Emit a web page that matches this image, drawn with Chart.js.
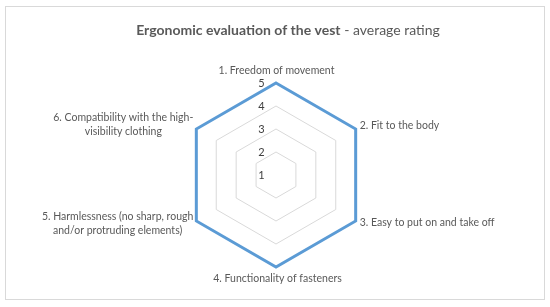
<!DOCTYPE html>
<html><head><meta charset="utf-8">
<script src="https://cdn.jsdelivr.net/npm/chart.js@4"></script>
<style>html,body{margin:0;padding:0;background:#fff}#wrap{width:550px;height:307px}</style>
</head><body><div id="wrap"><canvas id="c"></canvas></div>
<script>
const titleBold = 'Ergonomic evaluation of the vest';
const titleNormal = ' - average rating';
const categories = [
  ['1. Freedom of movement'],
  ['2. Fit to the body'],
  ['3. Easy to put on and take off'],
  ['4. Functionality of fasteners'],
  ['5. Harmlessness (no sharp, rough', 'and/or protruding elements)'],
  ['6. Compatibility with the high-', 'visibility clothing']
];
const averageRating = [5, 5, 5, 5, 5, 5];
const tickMin = 1, tickMax = 5, tickStep = 1;

const FONT = 'Lato, "Open Sans", sans-serif';
const TXT = '#595959';

const decor = {
  id: 'decor',
  beforeDraw(chart) {
    const ctx = chart.ctx;
    ctx.save();
    ctx.strokeStyle = '#d9d9d9';
    ctx.lineWidth = 1;
    ctx.strokeRect(5.5, 6.5, 539, 293);
    ctx.restore();
  },
  afterDraw(chart) {
    const ctx = chart.ctx;
    const s = chart.scales.r;
    ctx.save();
    // title
    ctx.fillStyle = TXT;
    ctx.textBaseline = 'middle';
    ctx.font = 'bold 14px ' + FONT;
    const wb = ctx.measureText(titleBold).width;
    ctx.font = '14px ' + FONT;
    const wn = ctx.measureText(titleNormal).width;
    let x0 = 288 - (wb + wn) / 2;
    ctx.textAlign = 'left';
    ctx.font = 'bold 14px ' + FONT;
    ctx.fillText(titleBold, x0, 30);
    ctx.font = '14px ' + FONT;
    ctx.fillText(titleNormal, x0 + wb, 30);

    // tick labels
    ctx.fillStyle = '#404040';
    ctx.font = '11px ' + FONT;
    ctx.textAlign = 'center';
    s.ticks.forEach(t => {
      const d = s.getDistanceFromCenterForValue(t.value);
      ctx.fillText(String(t.value), s.xCenter - 14.5, s.yCenter - d + 0.5);
    });

    // point labels
    ctx.fillStyle = TXT;
    ctx.font = '10.5px ' + FONT;
    const offs = [[0.5, -12.5, 'center'], [4, -3, 'left'], [4, 1.5, 'left'], [1.5, 12, 'center'], [-3, 2.5, 'block'], [-3, -4, 'block']];
    categories.forEach((lines, i) => {
      const p = s.getPointPosition(i, s.drawingArea);
      const [dx, dy, mode] = offs[i];
      const lh = 14;
      if (mode === 'block') {
        const mw = Math.max(...lines.map(l => ctx.measureText(l).width));
        const cxb = p.x + dx - mw / 2;
        ctx.textAlign = 'center';
        lines.forEach((l, k) => {
          ctx.fillText(l, cxb, p.y + dy + (k - (lines.length - 1) / 2) * lh);
        });
      } else {
        ctx.textAlign = mode;
        lines.forEach((l, k) => {
          ctx.fillText(l, p.x + dx, p.y + dy + (k - (lines.length - 1) / 2) * lh);
        });
      }
    });
    ctx.restore();
  }
};

new Chart(document.getElementById('c'), {
  type: 'radar',
  data: {
    labels: categories,
    datasets: [{
      label: 'Average rating',
      data: averageRating,
      borderColor: '#5B9BD5',
      borderWidth: 3,
      backgroundColor: 'transparent',
      fill: false,
      pointRadius: 0,
      pointHoverRadius: 0,
      borderJoinStyle: 'miter'
    }]
  },
  options: {
    responsive: true,
    maintainAspectRatio: false,
    animation: false,
    devicePixelRatio: 1,
    layout: { padding: { left: 184, right: 181, top: 83, bottom: 39 } },
    plugins: { legend: { display: false }, title: { display: false }, tooltip: { enabled: false } },
    scales: {
      r: {
        min: tickMin,
        max: tickMax,
        ticks: { stepSize: tickStep, display: false },
        grid: { color: '#d9d9d9', lineWidth: 1 },
        angleLines: { display: false },
        pointLabels: { display: false }
      }
    }
  },
  plugins: [decor]
});
</script>
</body></html>
